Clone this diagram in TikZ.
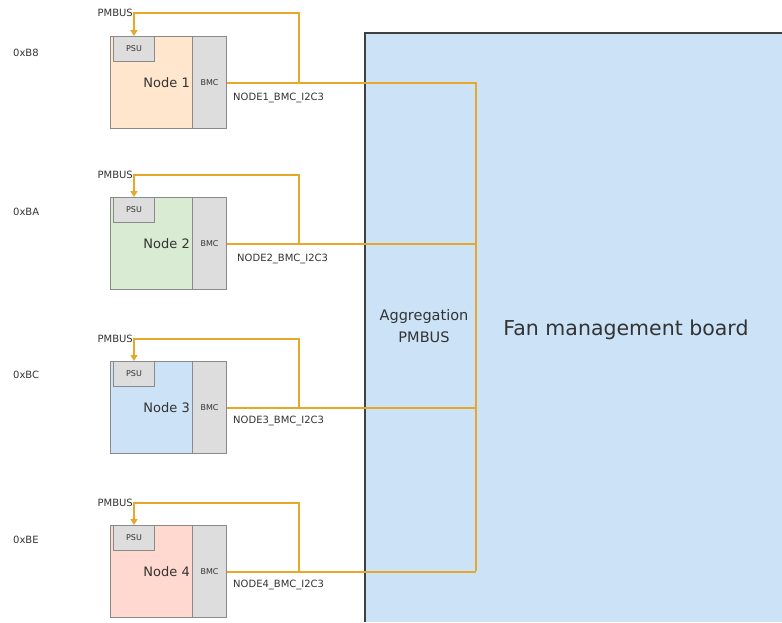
\documentclass[tikz,border=0pt]{standalone}
\usepackage{fontspec}
\setmainfont{DejaVu Sans}
\usetikzlibrary{positioning}
\usetikzlibrary{arrows.meta}

\definecolor{busorange}{HTML}{E6A82A}
\definecolor{boardblue}{HTML}{CCE2F7}
\definecolor{boardedge}{HTML}{404040}
\definecolor{boxedge}{HTML}{8A8A8A}
\definecolor{chipgray}{HTML}{DDDDDD}
\definecolor{txtgray}{HTML}{333333}
\definecolor{nodeonefill}{HTML}{FFE6CC}
\definecolor{nodetwofill}{HTML}{D9EBD3}
\definecolor{nodethreefill}{HTML}{CCE2F7}
\definecolor{nodefourfill}{HTML}{FFD9CF}

\tikzset{
  nodebox/.style={draw=boxedge,line width=1pt,minimum width=116pt,minimum height=92pt,anchor=north west,inner sep=0pt},
  bmcbox/.style={draw=boxedge,fill=chipgray,line width=1pt,minimum width=34pt,minimum height=92pt,anchor=north east,inner sep=0pt,font=\fontsize{8}{9}\selectfont,text=txtgray},
  psubox/.style={draw=boxedge,fill=chipgray,line width=1pt,minimum width=41pt,minimum height=25pt,anchor=north west,inner sep=0pt,font=\fontsize{8}{9}\selectfont,text=txtgray},
  nodelabel/.style={anchor=east,inner sep=2pt,font=\fontsize{13}{15}\selectfont,text=txtgray},
  smalltext/.style={font=\fontsize{10}{12}\selectfont,text=txtgray,inner sep=1pt},
  bus/.style={draw=busorange,line width=2pt},
  busarrow/.style={bus,-{Triangle[length=6pt,width=7pt]}}
}

\begin{document}
\begin{tikzpicture}[x=1pt,y=-1pt]
\useasboundingbox (0,0) rectangle (782,622);

% fan management board
\fill[boardblue] (365,33) rectangle (782,622);
\draw[boardedge,line width=2pt] (782,33) -- (365,33) -- (365,622);
\node[font=\fontsize{14.5}{22}\selectfont,text=txtgray,align=center] (agg) at (424,326) {Aggregation\\PMBUS};
\node[font=\fontsize{20.5}{24}\selectfont,text=txtgray] (fmb) at (626,330) {Fan management board};
\coordinate (aggtop) at (476,82);
\coordinate (aggbot) at (476,571);
\draw[bus] (aggtop) -- (aggbot);

% node 1
\node[nodebox,fill=nodeonefill] (n1) at (110,36) {};
\node[bmcbox] (bmc1) at (n1.north east) {BMC};
\node[psubox] (psu1) at ([xshift=3pt]n1.north west) {PSU};
\node[nodelabel] (lbl1) at (bmc1.west) {Node 1};
\node[smalltext,anchor=west] (addr1) at (12,53) {0xB8};
\node[smalltext,anchor=west] (i2c1) at (232,98) {NODE1\_BMC\_I2C3};
\coordinate (j1) at (299,82);
\coordinate (t1) at (299,13);
\draw[bus] (bmc1.east) -- (bmc1.east -| aggtop);
\draw[busarrow] (j1) -- (t1) -| (psu1.north);
\node[smalltext,anchor=east] (pm1) at (psu1.north |- t1) {PMBUS};

% node 2
\node[nodebox,fill=nodetwofill] (n2) at (110,197) {};
\node[bmcbox] (bmc2) at (n2.north east) {BMC};
\node[psubox] (psu2) at ([xshift=3pt]n2.north west) {PSU};
\node[nodelabel] (lbl2) at (bmc2.west) {Node 2};
\node[smalltext,anchor=west] (addr2) at (12,212) {0xBA};
\node[smalltext,anchor=west] (i2c2) at (236,259) {NODE2\_BMC\_I2C3};
\coordinate (j2) at (299,243);
\coordinate (t2) at (299,175);
\draw[bus] (bmc2.east) -- (bmc2.east -| aggtop);
\draw[busarrow] (j2) -- (t2) -| (psu2.north);
\node[smalltext,anchor=east] (pm2) at (psu2.north |- t2) {PMBUS};

% node 3
\node[nodebox,fill=nodethreefill] (n3) at (110,361) {};
\node[bmcbox] (bmc3) at (n3.north east) {BMC};
\node[psubox] (psu3) at ([xshift=3pt]n3.north west) {PSU};
\node[nodelabel] (lbl3) at (bmc3.west) {Node 3};
\node[smalltext,anchor=west] (addr3) at (12,375) {0xBC};
\node[smalltext,anchor=west] (i2c3) at (232,421) {NODE3\_BMC\_I2C3};
\coordinate (j3) at (299,407);
\coordinate (t3) at (299,339);
\draw[bus] (bmc3.east) -- (bmc3.east -| aggtop);
\draw[busarrow] (j3) -- (t3) -| (psu3.north);
\node[smalltext,anchor=east] (pm3) at (psu3.north |- t3) {PMBUS};

% node 4
\node[nodebox,fill=nodefourfill] (n4) at (110,525) {};
\node[bmcbox] (bmc4) at (n4.north east) {BMC};
\node[psubox] (psu4) at ([xshift=3pt]n4.north west) {PSU};
\node[nodelabel] (lbl4) at (bmc4.west) {Node 4};
\node[smalltext,anchor=west] (addr4) at (12,540) {0xBE};
\node[smalltext,anchor=west] (i2c4) at (232,585) {NODE4\_BMC\_I2C3};
\coordinate (j4) at (299,571);
\coordinate (t4) at (299,503);
\draw[bus] (bmc4.east) -- (bmc4.east -| aggtop);
\draw[busarrow] (j4) -- (t4) -| (psu4.north);
\node[smalltext,anchor=east] (pm4) at (psu4.north |- t4) {PMBUS};

\end{tikzpicture}
\end{document}
